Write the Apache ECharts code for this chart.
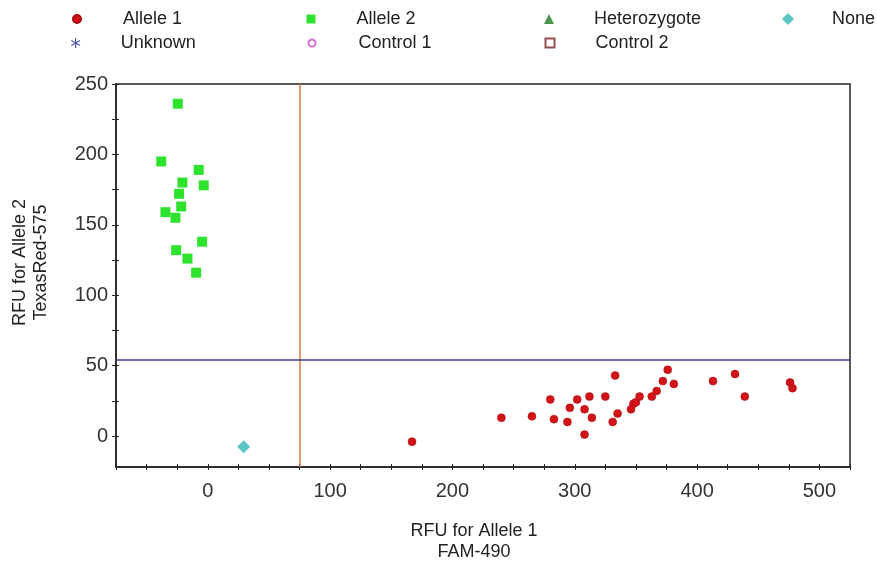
<!DOCTYPE html>
<html>
<head>
<meta charset="utf-8">
<script src="https://cdn.jsdelivr.net/npm/echarts@6/dist/echarts.min.js"></script>
<style>
  html, body { margin: 0; padding: 0; background: #fff; }
  #chart { width: 877px; height: 565px; }
</style>
</head>
<body>
<div id="chart"></div>
<script>
// 数据
const allele1 = [
  [167, -4], [240, 13], [265, 14], [280, 26], [283, 12], [296, 20], [294, 10],
  [302, 26], [308, 19], [308, 1], [312, 28], [314, 13], [325, 28], [333, 43],
  [331, 10], [335, 16], [346, 19], [348, 23], [350, 24], [353, 28], [363, 28],
  [367, 32], [372, 39], [376, 47], [381, 37], [413, 39], [431, 44], [439, 28],
  [476, 38], [478, 34]
];
const allele2 = [
  [-24.5, 236], [-38, 195], [-7.4, 189], [-20.7, 180], [-3.3, 178], [-23.4, 172],
  [-21.7, 163], [-34.6, 159], [-26.4, 155], [-4.6, 138], [-25.8, 132],
  [-16.6, 126], [-9.5, 116]
];
const noneCall = [[29.4, -7.6]];
const heterozygote = [];
const unknown = [];
const control1 = [];
const control2 = [];

const xLabels = [0, 100, 200, 300, 400, 500];
const xTicks = [-75, -50, -25, 0, 25, 50, 75, 100, 125, 150, 175, 200, 225, 250,
  275, 300, 325, 350, 375, 400, 425, 450, 475, 500, 525];
const yLabels = [0, 50, 100, 150, 200, 250];
const yTicks = [0, 25, 50, 75, 100, 125, 150, 175, 200, 225, 250];

const xCutoff = 75;
const yCutoff = 54;

const font = '"Liberation Sans", Arial, sans-serif';
const asterisk = 'path://M4.4 0L5.6 0L5.6 10L4.4 10Z M0.97 1.98L9.63 6.98L9.03 8.02L0.37 3.02Z M0.37 6.98L9.03 1.98L9.63 3.02L0.97 8.02Z';

let chart = echarts.init(document.getElementById('chart'));

// 图例：每项单独放置
function legendAt(name, x, y, size) {
  return {
    data: [name],
    left: x - size / 2,
    top: y - 10,
    padding: 0,
    itemWidth: size,
    itemHeight: size,
    selectedMode: false,
    textStyle: {
      fontFamily: font, fontSize: 18, color: '#222', lineHeight: 20,
      padding: [0, 0, 0, 45 - size]
    }
  };
}

function axisCommon() {
  return {
    type: 'value',
    splitLine: {show: false},
    axisLine: {show: true, onZero: false, lineStyle: {color: '#222', width: 1.5}},
    axisLabel: {fontFamily: font, fontSize: 20, color: '#333'},
  };
}

chart.setOption({
  animation: false,
  backgroundColor: '#fff',
  legend: [
    legendAt('Allele 1', 76, 19, 8),
    legendAt('Allele 2', 311, 19, 9),
    legendAt('Heterozygote', 549, 19, 10),
    legendAt('None', 788, 19, 12),
    legendAt('Unknown', 76, 43, 10),
    legendAt('Control 1', 311, 43, 7),
    legendAt('Control 2', 549, 43, 9),
  ],
  grid: {
    left: 116, right: 27, top: 84, bottom: 98,
    show: true, borderColor: '#222', borderWidth: 1.5,
    outerBoundsMode: 'none'
  },
  xAxis: [
    Object.assign(axisCommon(), {
      min: -75, max: 525,
      name: 'RFU for Allele 1\nFAM-490',
      nameLocation: 'middle',
      nameGap: 54,
      nameTextStyle: {fontFamily: font, fontSize: 18, color: '#222', lineHeight: 21, padding: [0, 18, 0, 0]},
      axisTick: {show: true, inside: false, length: 3, customValues: xTicks, lineStyle: {color: '#222'}},
      axisLabel: {fontFamily: font, fontSize: 20, color: '#333', margin: 14, customValues: xLabels},
    }),
    {
      type: 'value', min: -75, max: 525, position: 'bottom',
      axisLine: {show: false, onZero: false}, axisLabel: {show: false}, splitLine: {show: false},
      axisTick: {show: true, inside: true, length: 3, customValues: xTicks, lineStyle: {color: '#222'}}
    }
  ],
  yAxis: [
    Object.assign(axisCommon(), {
      min: -22, max: 250,
      name: 'RFU for Allele 2\nTexasRed-575',
      nameLocation: 'middle',
      nameRotate: 90,
      nameGap: 64,
      nameTextStyle: {fontFamily: font, fontSize: 18, color: '#222', lineHeight: 21, padding: [0, 0, 0, 26]},
      axisTick: {show: true, inside: false, length: 4, customValues: yTicks, lineStyle: {color: '#222'}},
      axisLabel: {fontFamily: font, fontSize: 20, color: '#333', margin: 8, customValues: yLabels},
    }),
    {
      type: 'value', min: -22, max: 250, position: 'left',
      axisLine: {show: false, onZero: false}, axisLabel: {show: false}, splitLine: {show: false},
      axisTick: {show: true, inside: true, length: 3, customValues: yTicks, lineStyle: {color: '#222'}}
    }
  ],
  series: [
    {
      name: 'Allele 1', type: 'scatter', data: allele1,
      symbol: 'circle', symbolSize: 8,
      itemStyle: {color: '#d01418', borderColor: '#a80c10', borderWidth: 0.5, opacity: 1},
      markLine: {
        silent: true, symbol: 'none', label: {show: false}, animation: false,
        data: [
          {xAxis: xCutoff, lineStyle: {color: '#d47a45', width: 1.5, type: 'solid'}},
          {yAxis: yCutoff, lineStyle: {color: '#3c3c8c', width: 1.5, type: 'solid'}}
        ]
      }
    },
    {
      name: 'Allele 2', type: 'scatter', data: allele2,
      symbol: 'rect', symbolSize: 10,
      itemStyle: {color: '#2ee32e', opacity: 1}
    },
    {
      name: 'Heterozygote', type: 'scatter', data: heterozygote,
      symbol: 'triangle', symbolSize: 10,
      itemStyle: {color: '#1f7a1f'}
    },
    {
      name: 'None', type: 'scatter', data: noneCall,
      symbol: 'diamond', symbolSize: 13,
      itemStyle: {color: '#5cc6c6', opacity: 1}
    },
    {
      name: 'Unknown', type: 'scatter', data: unknown,
      symbol: asterisk, symbolSize: 10,
      itemStyle: {color: '#1f2a9e'}
    },
    {
      name: 'Control 1', type: 'scatter', data: control1,
      symbol: 'emptyCircle', symbolSize: 7,
      itemStyle: {color: '#c848c8'}
    },
    {
      name: 'Control 2', type: 'scatter', data: control2,
      symbol: 'emptyRect', symbolSize: 9,
      itemStyle: {color: '#7a2020'}
    }
  ]
});
</script>
</body>
</html>
